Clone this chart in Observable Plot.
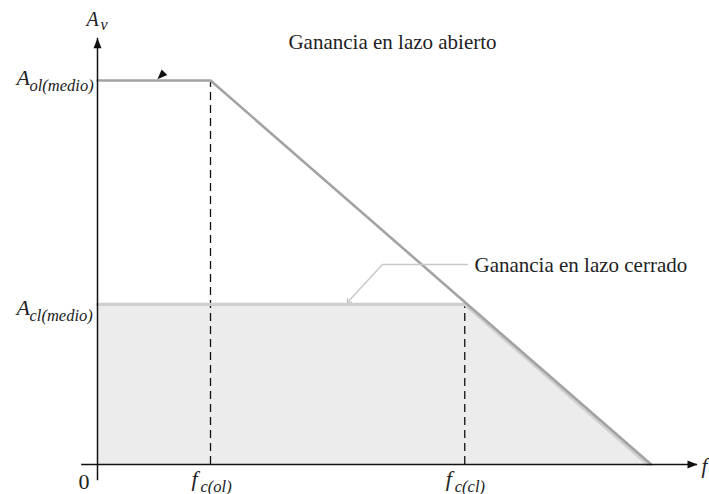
<!DOCTYPE html>
<html><head><meta charset="utf-8">
<script src="https://cdn.jsdelivr.net/npm/d3@7"></script>
<script src="https://cdn.jsdelivr.net/npm/@observablehq/plot@0.6"></script>
<style>html,body{margin:0;padding:0;background:#fff}svg{display:block}
svg text{font-family:'Liberation Serif','Times New Roman',serif !important}</style>
</head><body><div id="chart"></div>
<script>
// ---- data (frequency in units of f_c(ol), gain normalised to A_ol(medio)) ----
const openLoop   = [{f:0, A:1.0}, {f:1.0, A:1.0}, {f:4.9, A:0}];
const closedLoop = [{f:0, A:0.417}, {f:3.25, A:0.417}, {f:4.87, A:0}];
const gainLabels = [{base:"A", sub:"ol(medio)", A:1.0}, {base:"A", sub:"cl(medio)", A:0.417}];
const freqLabels = [{base:"f", sub:"c(ol)", f:1.0, A:1.0}, {base:"f", sub:"c(cl)", f:3.25, A:0.417}];
const titles = ["Ganancia en lazo abierto", "Ganancia en lazo cerrado"];
const axisX = {min:-0.14, max:5.31};
const axisY = {min:-0.042, max:1.11};
const leaderCL = [{f:3.274, A:0.521}, {f:2.522, A:0.521}, {f:2.221, A:0.425}];
const pointerOL = [{f:0.53, A:1.003}];

// arrowhead symbol: tip at origin pointing up
const arrowHead = {draw(ctx, size){ const k = Math.sqrt(size/Math.PI);
  ctx.moveTo(0,0); ctx.lineTo(0.8*k, 2*k); ctx.lineTo(-0.8*k, 2*k); ctx.closePath(); }};

const serif = "Liberation Serif";
const T = (data, o) => Plot.text(data, {fontFamily:serif, lineAnchor:"bottom", fill:"#222", ...o});

const chart = Plot.plot({
  width:709, height:494, margin:0,
  x:{domain:[0,5], range:[97,662], axis:null},
  y:{domain:[0,1], range:[464,80], axis:null},
  style:{background:"#fff", fontFamily:serif},
  marks:[
    Plot.areaY(closedLoop, {x:"f", y:"A", fill:"#ececec"}),
    Plot.ruleX(freqLabels, {x:"f", y1:0, y2:"A", stroke:"#111", strokeWidth:1.3, strokeDasharray:"8,5"}),
    Plot.line(closedLoop, {x:"f", y:"A", stroke:"#cfcfcf", strokeWidth:3.2}),
    Plot.line(openLoop, {x:"f", y:"A", stroke:"#a3a3a3", strokeWidth:2.6}),
    // axes
    Plot.ruleY([0], {x1:axisX.min, x2:axisX.max, stroke:"#111", strokeWidth:1.5}),
    Plot.ruleX([0], {y1:axisY.min, y2:axisY.max, stroke:"#111", strokeWidth:1.5}),
    Plot.dot([0], {x:axisX.max, y:0, symbol:arrowHead, r:5, rotate:90, fill:"#111", stroke:null}),
    Plot.dot([0], {x:0, y:axisY.max, symbol:arrowHead, r:5, rotate:0, fill:"#111", stroke:null}),
    // leader lines
    Plot.line(leaderCL, {x:"f", y:"A", stroke:"#c8c8c8", strokeWidth:1.4, markerEnd:"arrow"}),
    Plot.dot(pointerOL, {x:"f", y:"A", symbol:arrowHead, r:5, rotate:225, fill:"#111", stroke:null}),
    // y labels
    T([gainLabels[0]], {x:0, y:"A", text:"base", dx:-81, dy:4, fontSize:22, fontStyle:"italic", textAnchor:"start"}),
    T([gainLabels[0]], {x:0, y:"A", text:"sub", dx:-68, dy:10, fontSize:16.5, fontStyle:"italic", textAnchor:"start"}),
    T([gainLabels[1]], {x:0, y:"A", text:"base", dx:-81, dy:11, fontSize:22, fontStyle:"italic", textAnchor:"start"}),
    T([gainLabels[1]], {x:0, y:"A", text:"sub", dx:-68, dy:17, fontSize:16.5, fontStyle:"italic", textAnchor:"start"}),
    // x labels
    T(freqLabels, {x:"f", y:0, text:"base", dx:-19, dy:21, fontSize:22, fontStyle:"italic", textAnchor:"start"}),
    T(freqLabels, {x:"f", y:0, text:"sub", dx:-10, dy:27, fontSize:16.5, fontStyle:"italic", textAnchor:"start"}),
    T(["0"], {x:0, y:0, dx:-13.5, dy:24, fontSize:22, textAnchor:"middle"}),
    // axis names
    T(["A"], {x:0, y:axisY.max, dx:-11, dy:-12, fontSize:20, fontStyle:"italic", textAnchor:"start"}),
    T(["v"], {x:0, y:axisY.max, dx:3, dy:-8, fontSize:16, fontStyle:"italic", textAnchor:"start"}),
    T(["f"], {x:axisX.max, y:0, dx:4, dy:8, fontSize:21, fontStyle:"italic", textAnchor:"start"}),
    // titles
    T([titles[0]], {frameAnchor:"top-left", dx:392, dy:48, fontSize:21, textAnchor:"middle"}),
    T([titles[1]], {x:leaderCL[0].f, y:leaderCL[0].A, dx:7, dy:8, fontSize:21, textAnchor:"start"})
  ]
});
document.getElementById("chart").append(chart);
</script>
</body></html>
